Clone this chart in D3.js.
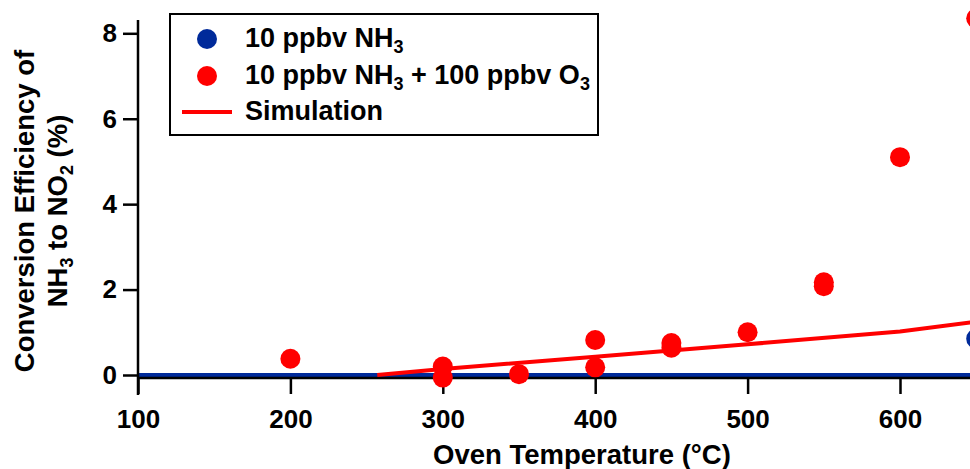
<!DOCTYPE html>
<html>
<head>
<meta charset="utf-8">
<script src="https://cdn.jsdelivr.net/npm/d3@7"></script>
<style>
  body { margin: 0; background: #fff; }
  svg { display: block; overflow: hidden; }
  text { font-family: "Liberation Sans", Arial, sans-serif; font-weight: bold; fill: #000; }
</style>
</head>
<body>
<svg id="chart"></svg>
<script>
// red series: 10 ppbv NH3 + 100 ppbv O3
const o3Temps  = [200, 300, 300, 350, 400, 400, 450, 450, 500, 550, 550, 600, 650];
const o3Values = [0.38, 0.2, -0.06, 0.02, 0.82, 0.18, 0.75, 0.64, 1.0, 2.17, 2.08, 5.1, 8.35];

// blue series: 10 ppbv NH3
const nh3Temps  = [650];
const nh3Values = [0.85];

// simulation line
const simTemps  = [257, 300, 400, 500, 600, 650];
const simValues = [0.0, 0.14, 0.43, 0.72, 1.02, 1.25];

const xTicks = [100, 200, 300, 400, 500, 600];
const yTicks = [0, 2, 4, 6, 8];

const width = 970, height = 469;
const red = "#ff0000", blue = "#002a9a";

const svg = d3.select("#chart")
    .attr("width", width)
    .attr("height", height);

const x = d3.scaleLinear().domain([100, 600]).range([138, 900]);
const y = d3.scaleLinear().domain([0, 8]).range([375, 33.3]);

const yBottom = y(-0.07), yTop = 20;

// blue zero line
svg.append("line")
    .attr("x1", x(100)).attr("x2", width + 20)
    .attr("y1", y(0)).attr("y2", y(0))
    .attr("stroke", blue).attr("stroke-width", 4);

// x axis
const xAxis = svg.append("g")
    .attr("transform", `translate(0,${yBottom})`)
    .call(d3.axisBottom(x).tickValues(xTicks).tickSize(16).tickPadding(16));
xAxis.select(".domain").attr("d", `M${x(100)},0H${width + 20}`).attr("stroke-width", 2.5);

// y axis
const yAxis = svg.append("g")
    .attr("transform", `translate(${x(100)},0)`)
    .call(d3.axisLeft(y).tickValues(yTicks).tickSize(15).tickPadding(6));
yAxis.select(".domain").attr("d", `M0,${yTop}V${yBottom + 17}`).attr("stroke-width", 2.5);

svg.selectAll(".tick line").attr("stroke-width", 2.5);
svg.selectAll(".tick text").attr("font-size", 26).attr("font-family", null);

// simulation line
const line = d3.line().x((d, i) => x(simTemps[i])).y(d => y(d));
svg.append("path")
    .datum(simValues)
    .attr("d", line)
    .attr("fill", "none")
    .attr("stroke", red)
    .attr("stroke-width", 4);

// points
svg.append("g").selectAll("circle")
    .data(o3Values)
    .join("circle")
    .attr("cx", (d, i) => x(o3Temps[i]))
    .attr("cy", d => y(d))
    .attr("r", 10)
    .attr("fill", red);

svg.append("g").selectAll("circle")
    .data(nh3Values)
    .join("circle")
    .attr("cx", (d, i) => x(nh3Temps[i]))
    .attr("cy", d => y(d))
    .attr("r", 10)
    .attr("fill", blue);

// axis titles
svg.append("text")
    .attr("x", 582).attr("y", 464)
    .attr("text-anchor", "middle")
    .attr("font-size", 27.5)
    .text("Oven Temperature (°C)");

const yTitle = svg.append("g").attr("transform", "translate(0,211) rotate(-90)");
yTitle.append("text")
    .attr("x", 0).attr("y", 34)
    .attr("text-anchor", "middle")
    .attr("font-size", 27.5)
    .text("Conversion Efficiency of");
const t2 = yTitle.append("text")
    .attr("x", 0).attr("y", 67)
    .attr("text-anchor", "middle")
    .attr("font-size", 27.5);
t2.append("tspan").text("NH");
t2.append("tspan").attr("font-size", 18).attr("dy", 6).text("3");
t2.append("tspan").attr("dy", -6).text(" to NO");
t2.append("tspan").attr("font-size", 18).attr("dy", 6).text("2");
t2.append("tspan").attr("dy", -6).text(" (%)");

// legend
const legend = svg.append("g");
legend.append("rect")
    .attr("x", 170).attr("y", 14)
    .attr("width", 428).attr("height", 121)
    .attr("fill", "#fff")
    .attr("stroke", "#000")
    .attr("stroke-width", 2);

legend.append("circle").attr("cx", 207).attr("cy", 39).attr("r", 10).attr("fill", blue);
legend.append("circle").attr("cx", 207).attr("cy", 76).attr("r", 10).attr("fill", red);
legend.append("line")
    .attr("x1", 182).attr("x2", 232)
    .attr("y1", 112).attr("y2", 112)
    .attr("stroke", red).attr("stroke-width", 4);

const l1 = legend.append("text").attr("x", 245).attr("y", 47).attr("font-size", 27);
l1.append("tspan").text("10 ppbv NH");
l1.append("tspan").attr("font-size", 18).attr("dy", 6).text("3");

const l2 = legend.append("text").attr("x", 245).attr("y", 84).attr("font-size", 27);
l2.append("tspan").text("10 ppbv NH");
l2.append("tspan").attr("font-size", 18).attr("dy", 6).text("3");
l2.append("tspan").attr("dy", -6).text(" + 100 ppbv O");
l2.append("tspan").attr("font-size", 18).attr("dy", 6).text("3");

legend.append("text").attr("x", 245).attr("y", 120).attr("font-size", 27).text("Simulation");
</script>
</body>
</html>
